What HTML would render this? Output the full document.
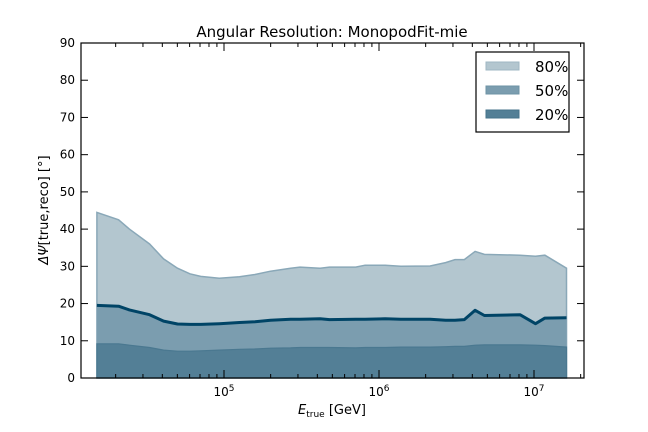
<!DOCTYPE html>
<html><head><meta charset="utf-8"><style>
html,body{margin:0;padding:0;background:#fff;}
svg{display:block;font-family:"DejaVu Sans","Liberation Sans",sans-serif;}
</style></head><body>
<svg id="chart" width="648" height="432" viewBox="0 0 648 432" xmlns="http://www.w3.org/2000/svg">
<rect x="0" y="0" width="648" height="432" fill="#fff"/>
<text x="332" y="37" text-anchor="middle" font-size="15">Angular Resolution: MonopodFit-mie</text>
<g id="plot"></g>
<g id="axes"></g>
<rect x="81" y="43" width="503" height="335" fill="none" stroke="#000" stroke-width="1.2"/>
<text transform="translate(48,210) rotate(-90)" text-anchor="middle" font-size="13"><tspan font-style="italic">ΔΨ</tspan>[true,reco] [°]</text>
<text x="332" y="414" text-anchor="middle" font-size="13"><tspan font-style="italic">E</tspan><tspan font-size="9" dy="3">true</tspan><tspan dy="-3"> [GeV]</tspan></text>
<g>
<rect x="476" y="52" width="93" height="80" fill="#fff" stroke="#000" stroke-width="1.2"/>
<g><rect x="486" y="62" width="33" height="8" fill="#b3c6cf" stroke="#9fb7c3"/><text x="535" y="72" font-size="15">80%</text></g>
<g><rect x="486" y="86" width="33" height="8" fill="#7b9daf" stroke="#6e93a6"/><text x="535" y="96" font-size="15">50%</text></g>
<g><rect x="486" y="110" width="33" height="8" fill="#537f96" stroke="#46738b"/><text x="535" y="120" font-size="15">20%</text></g>
</g>
</svg>
<script>
const logE = [4.18,4.32,4.39,4.52,4.61,4.70,4.78,4.85,4.97,5.10,5.20,5.30,5.43,5.49,5.62,5.68,5.85,5.91,6.04,6.14,6.33,6.43,6.49,6.55,6.62,6.68,6.91,7.01,7.07,7.21];
const q80 = [44.5,42.5,40,36,32,29.5,28,27.3,26.8,27.2,27.8,28.7,29.5,29.8,29.5,29.8,29.8,30.3,30.3,30.0,30.1,31,31.8,31.8,34,33.2,33,32.7,33,29.5];
const q50 = [19.5,19.3,18.3,17,15.3,14.5,14.4,14.4,14.6,14.9,15.1,15.5,15.8,15.8,15.9,15.7,15.8,15.8,15.9,15.8,15.8,15.5,15.5,15.7,18.2,16.8,17,14.6,16.1,16.2];
const q20 = [9.2,9.2,8.8,8.2,7.5,7.2,7.2,7.3,7.5,7.7,7.8,8.0,8.1,8.2,8.2,8.2,8.1,8.2,8.2,8.3,8.3,8.4,8.5,8.5,8.8,8.9,8.9,8.8,8.7,8.3];
const yTicks = [0,10,20,30,40,50,60,70,80,90];
const xMajor = [5,6,7];

const NS="http://www.w3.org/2000/svg";
function xs(l){return 224+(l-5)*155;}
function ys(v){return 378-v*(335/90);}
const plot=document.getElementById('plot'), axes=document.getElementById('axes');
function el(tag,attrs,parent){const e=document.createElementNS(NS,tag);for(const k in attrs)e.setAttribute(k,attrs[k]);parent.appendChild(e);return e;}
function area(vals){let d='M'+xs(logE[0])+','+ys(0);logE.forEach((l,i)=>{d+=' L'+xs(l).toFixed(1)+','+ys(vals[i]).toFixed(1);});d+=' L'+xs(logE[logE.length-1])+','+ys(0)+' Z';return d;}
function line(vals){return logE.map((l,i)=>(i?'L':'M')+xs(l).toFixed(1)+','+ys(vals[i]).toFixed(1)).join(' ');}
const a80=el('path',{d:area(q80),fill:'#b3c6cf',stroke:'#8aa8b8','stroke-width':1.5},plot);


const a50=el('path',{d:area(q50),fill:'#7b9daf',stroke:'none'},plot);


const a20=el('path',{d:area(q20),fill:'#537f96',stroke:'#4a7890','stroke-width':1.2},plot);


const med=el('path',{d:line(q50),fill:'none',stroke:'#004466','stroke-width':3,'stroke-linejoin':'round'},plot);


yTicks.forEach(v=>{
  const y=ys(v);
  el('line',{x1:81,x2:88,y1:y,y2:y,stroke:'#000'},axes);
  el('line',{x1:577,x2:584,y1:y,y2:y,stroke:'#000'},axes);
  const t=el('text',{x:75,y:y+4,'text-anchor':'end','font-size':12},axes);
  
  
  t.textContent=v;
});
for(let d=4;d<=7;d++){for(let m=1;m<10;m++){const l=d+Math.log10(m);const x=xs(l);if(x<81||x>584)continue;const len=m===1?8:4;
  el('line',{x1:x,x2:x,y1:378,y2:378-len,stroke:'#000'},axes);
  el('line',{x1:x,x2:x,y1:43,y2:43+len,stroke:'#000'},axes);}}
xMajor.forEach(p=>{
  const t=el('text',{x:xs(p),y:396,'text-anchor':'middle','font-size':12},axes);
  
  
  t.innerHTML='10<tspan font-size="9" dy="-5">'+p+'</tspan>';
});
</script>
</body></html>
